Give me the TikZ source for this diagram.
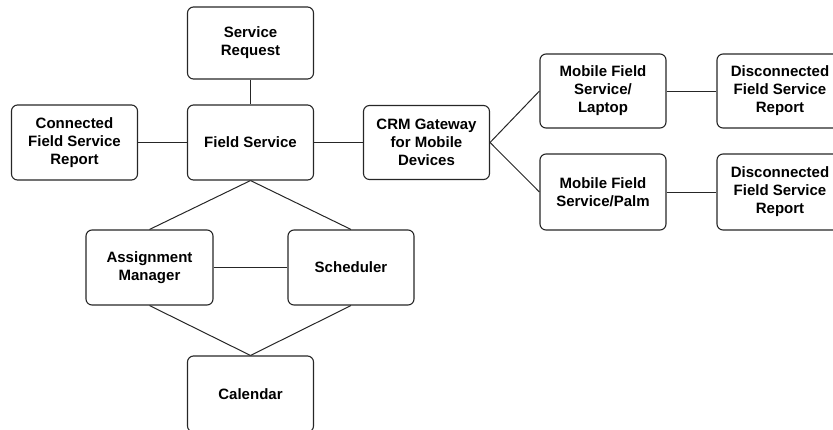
\documentclass[tikz,border=0pt]{standalone}
\usepackage{fontspec}
\setmainfont{Liberation Sans}
\begin{document}
\begin{tikzpicture}[x=1pt,y=-1pt,
  box/.style={draw=black!85, line width=1.1pt, rounded corners=6pt, inner sep=0pt,
    align=center, font=\fontsize{15}{18}\selectfont\bfseries,
    minimum width=126pt, minimum height=75pt},
  link/.style={draw=black!85, line width=1pt}]
\useasboundingbox (0,0) rectangle (833,429);
\clip (0,0) rectangle (833,429);
\node[box, minimum height=72pt] (sr) at (250.5,43) {Service\\Request};
\node[box] (fs) at (250.5,142.5) {Field Service};
\node[box] (cfsr) at (74.5,142.5) {Connected\\Field Service\\Report};
\node[box, minimum height=74pt] (crm) at (426.5,142.5) {CRM Gateway\\for Mobile\\Devices};
\node[box, minimum height=74pt] (mfl) at (603,91) {Mobile Field\\Service/\\Laptop};
\node[box, minimum height=74pt] (dfs1) at (780,91) {Disconnected\\Field Service\\Report};
\node[box, minimum height=76pt] (mfp) at (603,192) {Mobile Field\\Service/Palm};
\node[box, minimum height=76pt] (dfs2) at (780,192) {Disconnected\\Field Service\\Report};
\node[box, minimum width=127pt] (am) at (149.5,267.5) {Assignment\\Manager};
\node[box] (sch) at (351,267.5) {Scheduler};
\node[box, minimum height=76pt] (cal) at (250.5,394) {Calendar};
\draw[link] (sr.south) -- (fs.north);
\draw[link] (cfsr.east) -- (fs.west);
\draw[link] (fs.east) -- (crm.west);
\draw[link] (crm.east) -- (mfl.west);
\draw[link] (crm.east) -- (mfp.west);
\draw[link] (mfl.east) -- (dfs1.west);
\draw[link] (mfp.east) -- (dfs2.west);
\draw[link] (fs.south) -- (am.north);
\draw[link] (fs.south) -- (sch.north);
\draw[link] (am.east) -- (sch.west);
\draw[link] (am.south) -- (cal.north);
\draw[link] (sch.south) -- (cal.north);
\end{tikzpicture}
\end{document}
